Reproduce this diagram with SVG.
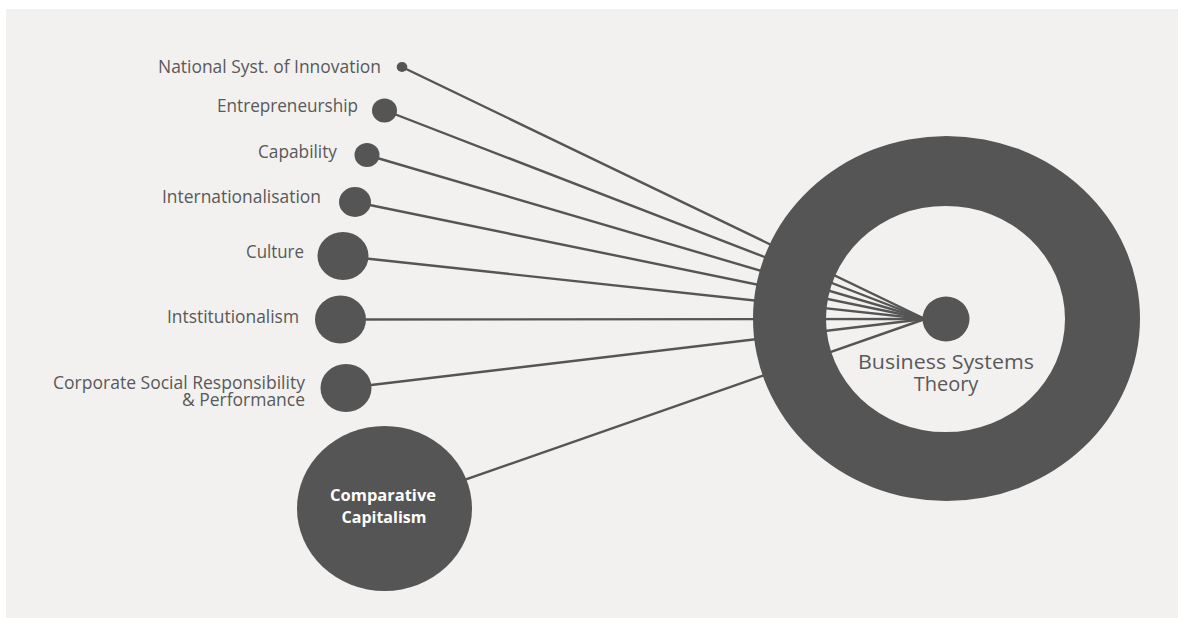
<svg xmlns="http://www.w3.org/2000/svg" width="1178" height="618" viewBox="0 0 1178 618">
  <style>
    .bg { fill: #f2f1f0; }
    .node { fill: #555555; }
    .link { stroke: #555555; stroke-width: 2.4; fill: none; stroke-linecap: round; }
    .label { font-family: "Open Sans", "Liberation Sans", sans-serif; font-size: 18px; fill: #595959; text-anchor: end; }
    .core { font-family: "Open Sans", "Liberation Sans", sans-serif; font-size: 20px; fill: #595959; text-anchor: middle; }
    .inner { font-family: "Open Sans", "Liberation Sans", sans-serif; font-size: 16px; font-weight: bold; fill: #ffffff; text-anchor: middle; }
  </style>

  <rect x="0" y="0" width="1178" height="618" fill="#ffffff"/>
  <rect class="bg" x="6" y="9" width="1172" height="609"/>

  <!-- connectors: every topic feeds the hub -->
  <g id="connectors">
    <line class="link" x1="402" y1="67" x2="925" y2="319"/>
    <line class="link" x1="384" y1="110" x2="925" y2="319"/>
    <line class="link" x1="367" y1="155" x2="925" y2="319"/>
    <line class="link" x1="355" y1="202" x2="925" y2="319"/>
    <line class="link" x1="343" y1="256" x2="925" y2="319"/>
    <line class="link" x1="340" y1="319.5" x2="925" y2="319"/>
    <line class="link" x1="346" y1="388" x2="925" y2="319"/>
    <line class="link" x1="384" y1="508" x2="925" y2="319"/>
  </g>

  <g id="business-systems-theory">
    <path class="node" fill-rule="evenodd"
      d="M753,318.5 a193.5,182.5 0 1,0 387,0 a193.5,182.5 0 1,0 -387,0 Z
         M826,319 a119.5,113 0 1,0 239,0 a119.5,113 0 1,0 -239,0 Z"/>
    <ellipse class="node" cx="946" cy="319" rx="23.5" ry="22.5"/>
    <text class="core" x="946" y="369" textLength="176" lengthAdjust="spacingAndGlyphs">Business Systems</text>
    <text class="core" x="946" y="391">Theory</text>
  </g>

  <g id="national-syst-of-innovation">
    <ellipse class="node" cx="402" cy="67" rx="5.3" ry="5"/>
    <text class="label" x="381" y="73" textLength="223" lengthAdjust="spacingAndGlyphs">National Syst. of Innovation</text>
  </g>

  <g id="entrepreneurship">
    <ellipse class="node" cx="384.5" cy="110.5" rx="12.5" ry="12"/>
    <text class="label" x="358" y="112" textLength="141" lengthAdjust="spacingAndGlyphs">Entrepreneurship</text>
  </g>

  <g id="capability">
    <ellipse class="node" cx="367" cy="155" rx="12.5" ry="12"/>
    <text class="label" x="337" y="158" textLength="79" lengthAdjust="spacingAndGlyphs">Capability</text>
  </g>

  <g id="internationalisation">
    <ellipse class="node" cx="355" cy="202" rx="16" ry="15"/>
    <text class="label" x="321" y="203" textLength="159" lengthAdjust="spacingAndGlyphs">Internationalisation</text>
  </g>

  <g id="culture">
    <ellipse class="node" cx="343" cy="256" rx="25.5" ry="24"/>
    <text class="label" x="304" y="258" textLength="58" lengthAdjust="spacingAndGlyphs">Culture</text>
  </g>

  <g id="institutionalism">
    <ellipse class="node" cx="340.5" cy="319.5" rx="25.5" ry="24"/>
    <text class="label" x="299" y="323" textLength="132" lengthAdjust="spacingAndGlyphs">Intstitutionalism</text>
  </g>

  <g id="csr-performance">
    <ellipse class="node" cx="346" cy="388" rx="25.5" ry="24"/>
    <text class="label" x="305" y="388.5" textLength="252" lengthAdjust="spacingAndGlyphs">Corporate Social Responsibility</text>
    <text class="label" x="305" y="406" textLength="123" lengthAdjust="spacingAndGlyphs">&amp; Performance</text>
  </g>

  <g id="comparative-capitalism">
    <ellipse class="node" cx="384.5" cy="508.5" rx="87.5" ry="82.5"/>
    <text class="inner" x="383" y="501" textLength="106" lengthAdjust="spacingAndGlyphs">Comparative</text>
    <text class="inner" x="384" y="523" textLength="85" lengthAdjust="spacingAndGlyphs">Capitalism</text>
  </g>
</svg>
